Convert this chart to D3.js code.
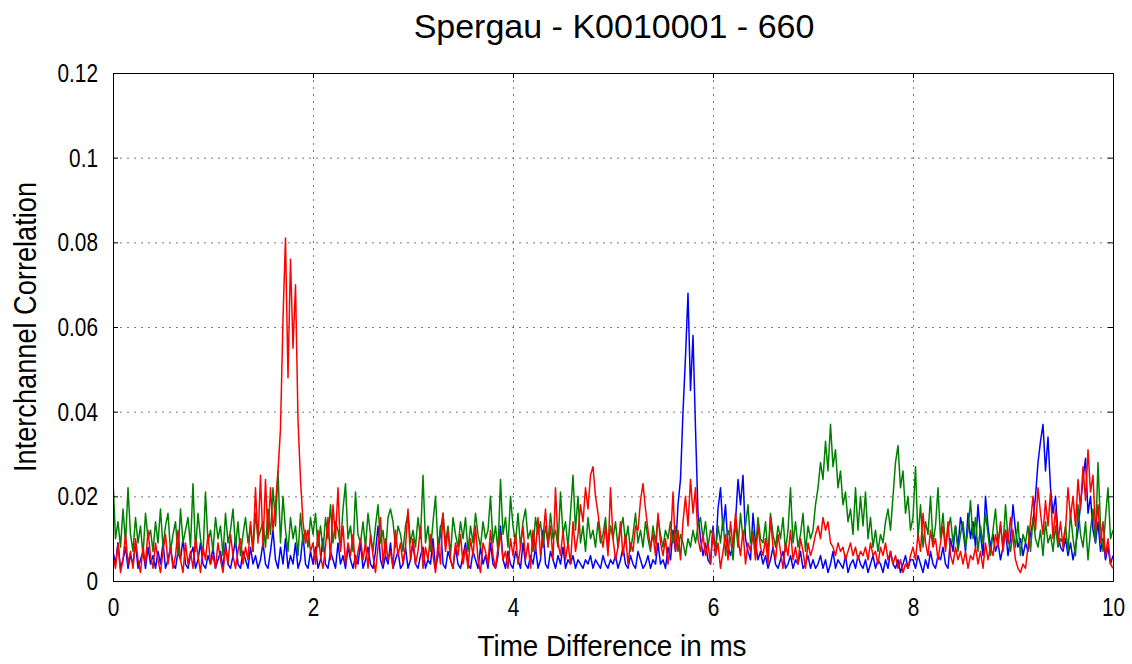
<!DOCTYPE html>
<html>
<head>
<meta charset="utf-8">
<script src="https://cdn.jsdelivr.net/npm/d3@7"></script>
<style>
  body { margin: 0; background: #fff; }
  svg { display: block; }
</style>
</head>
<body>
<svg class="plot"></svg>
<script>
// spacing of the samples in ms
const step = 0.025
const xTicks = [0, 2, 4, 6, 8, 10]
const yTicks = [0, 0.02, 0.04, 0.06, 0.08, 0.1, 0.12]

// correlation values in thousandths, one row per 0.5 ms
const blueValues = [
  7,4,9,3,5,8,3,6,4,9,3,5,7,3,8,4,6,3,7,4,
  9,3,5,8,4,3,7,5,10,4,3,6,8,3,5,9,4,3,6,4,
  8,3,5,7,3,9,4,3,6,10,4,3,7,5,3,8,4,6,3,5,
  9,4,3,7,12,5,3,8,4,10,3,6,4,9,3,5,11,4,3,7,
  4,8,3,5,10,4,3,7,5,3,9,4,6,3,8,5,3,6,4,9,
  3,5,8,4,3,7,13,5,3,6,4,9,3,5,7,3,4,8,3,5,
  9,4,3,6,8,3,5,4,10,3,6,13,4,3,7,5,3,8,4,3,
  6,9,4,3,7,5,3,8,4,6,3,9,4,3,6,13,5,3,7,4,
  3,7,5,3,9,4,3,6,4,8,3,5,12,4,3,7,5,3,6,4,
  8,3,5,4,6,3,5,4,3,5,4,6,3,5,4,3,6,4,3,5,
  4,6,3,5,8,4,3,6,4,3,7,5,3,4,6,3,5,4,9,4,
  5,3,8,5,12,7,18,24,40,53,68,45,58,36,16,10,6,9,5,4,
  13,6,17,22,12,18,8,6,9,14,24,18,25,10,7,5,16,9,5,7,
  4,6,3,5,8,4,3,5,7,3,4,6,3,5,4,7,3,4,6,3,
  5,3,4,6,3,5,2,4,7,3,5,4,3,6,2,4,5,3,6,4,
  3,5,2,4,6,3,5,4,2,5,3,7,4,3,5,2,4,6,3,5,
  5,3,6,4,2,5,3,7,4,3,6,5,8,4,3,10,7,13,8,15,
  12,7,16,10,14,8,18,11,6,20,13,8,11,7,9,5,8,12,6,10,
  18,12,8,10,6,9,7,11,14,20,28,33,37,26,34,22,16,20,11,8,
  7,10,6,9,5,8,12,18,24,29,16,20,12,9,14,7,10,5,8,4,
  6
]

const greenValues = [
  24,10,14,8,17,9,22,11,7,15,9,13,6,16,10,12,7,14,9,17,
  8,13,16,7,11,14,6,17,9,12,15,8,23,7,16,10,6,21,9,12,
  7,15,10,13,6,16,9,12,17,8,14,6,11,15,9,13,7,16,10,12,
  14,8,17,11,22,13,26,9,20,12,7,15,10,13,6,16,9,12,8,15,
  11,16,8,13,7,15,10,18,9,14,12,8,17,23,10,13,7,21,11,9,
  14,8,16,11,7,13,18,9,12,6,15,17,14,8,13,11,7,13,16,9,
  12,8,15,10,25,9,13,7,14,20,8,12,16,9,13,6,15,11,8,14,
  10,15,7,13,9,16,11,8,14,10,12,20,9,13,7,24,11,15,8,20,
  13,9,16,8,14,17,10,12,7,15,11,14,8,13,9,16,10,12,8,21,
  11,14,8,16,25,12,20,9,13,7,15,10,12,8,14,9,11,15,7,13,
  10,14,8,12,15,9,13,7,11,16,9,12,8,14,10,7,13,9,15,11,
  8,12,10,14,9,13,7,11,9,6,10,8,12,9,13,15,10,14,8,12,
  11,7,13,9,15,6,12,10,5,14,8,16,10,13,18,9,12,7,15,10,
  9,14,6,16,11,8,13,10,15,7,12,22,9,14,8,11,16,7,13,10,
  12,18,22,28,24,33,26,37,27,31,22,26,18,21,14,17,11,22,12,20,
  13,21,10,15,8,12,7,11,9,14,17,12,20,28,32,22,26,16,20,12,
  15,27,10,18,8,14,11,20,9,13,22,10,16,8,12,15,9,13,7,11,
  14,8,12,19,10,15,7,13,9,16,11,6,12,17,9,13,8,18,10,7,
  12,8,14,6,11,9,13,7,15,10,8,12,6,14,9,11,7,13,8,10,
  9,13,7,16,10,6,18,11,8,14,5,12,17,9,28,13,7,15,22,10,
  12
]

const redValues = [
  6,3,9,2,5,11,4,7,3,10,5,2,8,4,12,6,3,9,5,2,
  7,11,4,8,3,6,12,5,2,9,4,7,3,10,6,2,8,5,11,4,
  6,3,9,5,2,8,4,11,6,3,7,10,4,8,5,14,7,22,9,25,
  8,24,10,22,12,18,26,36,62,81,48,76,55,70,38,24,14,9,12,7,
  9,4,12,6,3,8,15,5,18,10,22,7,13,4,9,6,11,3,7,10,
  5,9,3,11,6,2,8,15,4,10,5,7,3,12,6,9,4,8,17,5,
  10,4,7,13,3,8,5,11,6,2,9,4,16,7,12,5,3,9,6,11,
  4,8,3,10,6,13,5,2,9,7,4,12,6,3,8,11,5,7,3,10,
  6,11,4,8,13,5,9,3,12,7,15,6,10,17,8,13,5,22,9,6,
  12,5,9,4,14,7,11,18,14,22,17,25,27,20,16,11,8,13,6,22,
  10,5,8,14,6,11,4,9,7,13,12,19,23,17,12,8,11,6,16,9,
  6,10,4,9,21,7,12,5,14,20,13,24,16,22,10,7,11,6,9,4,
  12,6,9,3,7,11,5,14,8,16,10,6,12,4,9,7,11,5,13,8,
  6,10,4,15,8,5,11,7,3,9,6,12,5,8,4,10,7,3,9,6,
  8,11,13,10,15,12,14,9,8,6,9,7,8,5,7,9,6,8,5,7,
  6,8,5,9,6,7,4,8,6,9,5,7,4,6,3,5,2,4,3,6,
  8,5,11,7,16,9,6,12,8,10,5,9,13,7,14,6,4,8,5,7,
  4,7,3,6,5,8,4,7,3,9,5,8,6,11,8,14,7,12,9,15,
  10,5,3,2,4,3,8,14,20,12,22,16,11,19,13,21,10,17,9,14,
  8,12,22,15,20,13,24,17,27,19,31,21,25,12,18,9,14,6,10,4,
  3
]

const series = [
  { name: "blue", color: "#0000ff", values: blueValues },
  { name: "green", color: "#008000", values: greenValues },
  { name: "red", color: "#ff0000", values: redValues }
]

// layout
const margin = {left: 113, top: 73, right: 19, bottom: 83}
const w = 1000
const h = 508
const font = "'Liberation Sans', Arial, sans-serif"
const squeeze = 0.8 // the labels use a condensed face

const svg = d3.select(".plot")
  .attr("width", margin.left + w + margin.right)
  .attr("height", margin.top + h + margin.bottom)

const container = svg.append("g")
  .attr("transform", `translate(${margin.left}, ${margin.top})`)

const xScale = d3.scaleLinear().domain([0, 10]).range([0, w])
const yScale = d3.scaleLinear().domain([0, 0.12]).range([h, 0])

// dotted grid
container.selectAll(".xgrid")
  .data(xTicks.slice(1, -1))
  .join("line")
  .attr("class", "xgrid")
  .attr("x1", d => xScale(d) + 0.5).attr("x2", d => xScale(d) + 0.5)
  .attr("y1", 0).attr("y2", h)
  .attr("stroke", "#7a7a7a")
  .attr("stroke-dasharray", "2,5")

container.selectAll(".ygrid")
  .data(yTicks.slice(1, -1))
  .join("line")
  .attr("class", "ygrid")
  .attr("x1", 0).attr("x2", w)
  .attr("y1", d => yScale(d) + 0.5).attr("y2", d => yScale(d) + 0.5)
  .attr("stroke", "#7a7a7a")
  .attr("stroke-dasharray", "2,5")

// curves
svg.append("clipPath").attr("id", "clip")
  .append("rect").attr("width", w).attr("height", h)

const lineGen = d3.line()
  .x((d, i) => xScale(i * step))
  .y(d => yScale(d / 1000))

container.append("g")
  .attr("clip-path", "url(#clip)")
  .selectAll(".curve")
  .data(series)
  .join("path")
  .attr("class", "curve")
  .attr("d", d => lineGen(d.values))
  .attr("fill", "none")
  .attr("stroke", d => d.color)
  .attr("stroke-width", 1.5)
  .attr("stroke-linejoin", "round")

// axes with inward ticks on all four sides
container.append("g").attr("class", "x-axis")
  .attr("transform", `translate(0,${h})`)
  .call(d3.axisBottom(xScale).tickValues(xTicks).tickSize(-5).tickSizeOuter(0).tickPadding(17))
container.append("g").attr("class", "x-axis-top")
  .call(d3.axisTop(xScale).tickValues(xTicks).tickSize(-5).tickSizeOuter(0).tickFormat(""))
container.append("g").attr("class", "y-axis")
  .call(d3.axisLeft(yScale).tickValues(yTicks).tickSize(-5).tickSizeOuter(0).tickPadding(15).tickFormat(d => d))
container.append("g").attr("class", "y-axis-right")
  .attr("transform", `translate(${w},0)`)
  .call(d3.axisRight(yScale).tickValues(yTicks).tickSize(-5).tickSizeOuter(0).tickFormat(""))

container.selectAll(".domain").attr("stroke", "#000")
container.selectAll(".tick line").attr("stroke", "#000")
container.selectAll(".tick text")
  .attr("font-family", font)
  .attr("font-size", 26)
  .attr("fill", "#000")
container.selectAll(".y-axis .tick text")
  .attr("x", -15 / squeeze)
  .attr("transform", `scale(${squeeze},1)`)
container.selectAll(".x-axis .tick text")
  .attr("transform", `scale(${squeeze},1)`)

// titles
svg.append("text")
  .attr("x", 614).attr("y", 38)
  .attr("text-anchor", "middle")
  .attr("font-family", font)
  .attr("font-size", 34)
  .text("Spergau - K0010001 - 660")

svg.append("text")
  .attr("x", 612).attr("y", 656)
  .attr("text-anchor", "middle")
  .attr("font-family", font)
  .attr("font-size", 30)
  .attr("textLength", 269)
  .attr("lengthAdjust", "spacingAndGlyphs")
  .text("Time Difference in ms")

svg.append("text")
  .attr("transform", `translate(36, ${margin.top + h / 2}) rotate(-90)`)
  .attr("text-anchor", "middle")
  .attr("font-family", font)
  .attr("font-size", 31)
  .attr("textLength", 290)
  .attr("lengthAdjust", "spacingAndGlyphs")
  .text("Interchannel Correlation")
</script>
</body>
</html>
